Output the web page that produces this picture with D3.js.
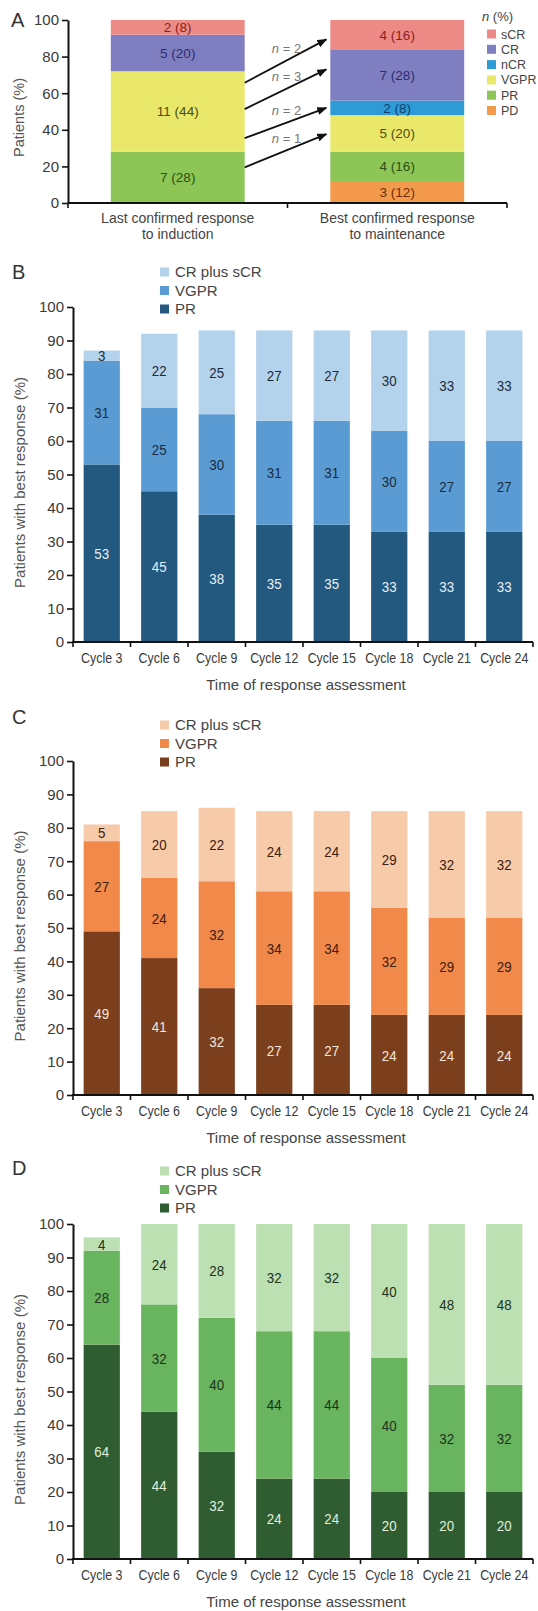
<!DOCTYPE html>
<html><head><meta charset="utf-8">
<script src="https://cdn.jsdelivr.net/npm/d3@7"></script>
<style>
html,body{margin:0;padding:0;background:#fff;}
svg{display:block;font-family:"Liberation Sans",Arial,Helvetica,sans-serif;}
</style></head><body>
<svg id="chart" width="538" height="1611"></svg>
<script>
// ---------- Panel A data ----------
const aCategories = ["Last confirmed response|to induction", "Best confirmed response|to maintenance"];
const aResponses = ["PD", "PR", "VGPR", "nCR", "CR", "sCR"];          // stack order, bottom to top
const aLegendOrder = ["sCR", "CR", "nCR", "VGPR", "PR", "PD"];
const aInductionN = [0, 7, 11, 0, 5, 2];
const aInductionPct = [0, 28, 44, 0, 20, 8];
const aMaintenanceN = [3, 4, 5, 2, 7, 4];
const aMaintenancePct = [12, 16, 20, 8, 28, 16];
const aYTicks = [0, 20, 40, 60, 80, 100];
const aArrowFrom = [65.7, 51.3, 35.4, 19.5];
const aArrowTo = [89.4, 73, 52, 37.6];
const aArrowN = [2, 3, 2, 1];

// ---------- Panels B-D data ----------
const cycles = ["Cycle 3", "Cycle 6", "Cycle 9", "Cycle 12", "Cycle 15", "Cycle 18", "Cycle 21", "Cycle 24"];
const cycleSeries = ["PR", "VGPR", "CR plus sCR"];
const cycleLegend = ["CR plus sCR", "VGPR", "PR"];
const cycleYTicks = [0, 10, 20, 30, 40, 50, 60, 70, 80, 90, 100];
const bPR = [53, 45, 38, 35, 35, 33, 33, 33];
const bVGPR = [31, 25, 30, 31, 31, 30, 27, 27];
const bCR = [3, 22, 25, 27, 27, 30, 33, 33];
const cPR = [49, 41, 32, 27, 27, 24, 24, 24];
const cVGPR = [27, 24, 32, 34, 34, 32, 29, 29];
const cCR = [5, 20, 22, 24, 24, 29, 32, 32];
const dPR = [64, 44, 32, 24, 24, 20, 20, 20];
const dVGPR = [28, 32, 40, 44, 44, 40, 32, 32];
const dCR = [4, 24, 28, 32, 32, 40, 48, 48];

const svg = d3.select("#chart");
const AXIS = "#111";
const TXT = "#3a3a3a";

// ================= Panel A =================
(function panelA() {
  const X0 = 68, X1 = 507, Y0 = 203, Y100 = 20;
  const y = d3.scaleLinear().domain([0, 100]).range([Y0, Y100]);
  const x = d3.scaleBand().domain(aCategories).range([X0, X1]).paddingInner(0.39).paddingOuter(0.195);
  const colors = {PD: "#f39a4c", PR: "#8dc657", VGPR: "#e9e86a", nCR: "#2f9bd6", CR: "#7f7ec0", sCR: "#ee8a86"};
  const tcolors = {PD: "#6e2d08", PR: "#2b4f14", VGPR: "#4f4c12", nCR: "#12406e", CR: "#2c2c72", sCR: "#8a2020"};
  const pctSets = [aInductionPct, aMaintenancePct];
  const nSets = [aInductionN, aMaintenanceN];
  const rows = aCategories.map((c, i) => {
    const r = {cat: c, idx: i};
    aResponses.forEach((k, j) => r[k] = pctSets[i][j]);
    return r;
  });
  const stacked = d3.stack().keys(aResponses)(rows);
  const g = svg.append("g");
  stacked.forEach(s => {
    const j = aResponses.indexOf(s.key);
    s.forEach(d => {
      if (d[1] - d[0] <= 0) return;
      g.append("rect").attr("x", x(d.data.cat)).attr("width", x.bandwidth())
        .attr("y", y(d[1])).attr("height", y(d[0]) - y(d[1])).attr("fill", colors[s.key]);
      g.append("text").attr("x", x(d.data.cat) + x.bandwidth() / 2).attr("y", y((d[0] + d[1]) / 2))
        .attr("dy", "0.36em").attr("text-anchor", "middle").attr("font-size", 13.5)
        .attr("fill", tcolors[s.key])
        .text(nSets[d.data.idx][j] + " (" + pctSets[d.data.idx][j] + ")");
    });
  });
  // axes
  const yAxis = d3.axisLeft(y).tickValues(aYTicks).tickSize(6).tickPadding(3).tickSizeOuter(0);
  const ya = g.append("g").attr("transform", `translate(${X0},0)`).call(yAxis);
  ya.select(".domain").attr("stroke", AXIS).attr("stroke-width", 2);
  ya.selectAll(".tick line").attr("stroke", AXIS).attr("stroke-width", 1.6);
  ya.selectAll(".tick text").attr("font-size", 15).attr("fill", TXT).attr("font-family", "Liberation Sans, Arial, sans-serif");
  const bx = d3.scaleLinear().domain([0, aCategories.length]).range([X0, X1]);
  g.append("line").attr("x1", bx(0)).attr("x2", bx(aCategories.length)).attr("y1", Y0).attr("y2", Y0)
    .attr("stroke", AXIS).attr("stroke-width", 2);
  d3.range(aCategories.length + 1).forEach(i => {
    g.append("line").attr("x1", bx(i)).attr("x2", bx(i)).attr("y1", Y0).attr("y2", Y0 + 5)
      .attr("stroke", AXIS).attr("stroke-width", 1.6);
  });
  aCategories.forEach(c => {
    const t = g.append("text").attr("x", x(c) + x.bandwidth() / 2).attr("y", Y0 + 20)
      .attr("text-anchor", "middle").attr("font-size", 14).attr("fill", "#444");
    c.split("|").forEach((line, k) => t.append("tspan").attr("x", x(c) + x.bandwidth() / 2).attr("dy", k ? 16 : 0).text(line));
  });
  g.append("text").attr("transform", `translate(24,${(Y0 + Y100) / 2 + 6}) rotate(-90)`)
    .attr("text-anchor", "middle").attr("font-size", 14.5).attr("fill", "#555").text("Patients (%)");
  g.append("text").attr("x", 11).attr("y", 27).attr("font-size", 20).attr("fill", "#333").text("A");

  // arrows
  const defs = svg.append("defs");
  defs.append("marker").attr("id", "arr").attr("viewBox", "0 0 10 8").attr("refX", 9).attr("refY", 4)
    .attr("markerWidth", 10).attr("markerHeight", 8).attr("markerUnits", "userSpaceOnUse").attr("orient", "auto")
    .append("path").attr("d", "M0,0 L10,4 L0,8 Z").attr("fill", "#111");
  const xs = x(aCategories[0]) + x.bandwidth();
  const xe = x(aCategories[1]) - 4;
  aArrowFrom.forEach((f, i) => {
    g.append("line").attr("x1", xs).attr("y1", y(f)).attr("x2", xe).attr("y2", y(aArrowTo[i]))
      .attr("stroke", "#111").attr("stroke-width", 1.8).attr("marker-end", "url(#arr)");
    const mx = (xs + xe) / 2, my = (y(f) + y(aArrowTo[i])) / 2;
    const t = g.append("text").attr("x", mx + 1).attr("y", my - 8).attr("text-anchor", "middle")
      .attr("font-size", 13).attr("fill", "#777");
    t.append("tspan").attr("font-style", "italic").text("n");
    t.append("tspan").text(" = " + aArrowN[i]);
  });

  // legend
  const lg = g.append("g");
  const lt = lg.append("text").attr("x", 482).attr("y", 21).attr("font-size", 13).attr("fill", "#444");
  lt.append("tspan").attr("font-style", "italic").text("n");
  lt.append("tspan").text(" (%)");
  const ly = d3.scalePoint().domain(aLegendOrder).range([34, 110.5]);
  aLegendOrder.forEach(k => {
    lg.append("rect").attr("x", 487).attr("y", ly(k) - 4.5).attr("width", 9).attr("height", 9).attr("fill", colors[k]);
    lg.append("text").attr("x", 501).attr("y", ly(k)).attr("dy", "0.36em").attr("font-size", 12.5)
      .attr("fill", "#444").text(k);
  });
})();

// ================= Panels B-D =================
function cyclePanel(cfg) {
  const {letter, y0, y100, pr, vgpr, cr, colors, tdark, tlight, legendTop, letterY} = cfg;
  const X0 = 73, X1 = 533;
  const y = d3.scaleLinear().domain([0, 100]).range([y0, y100]);
  const x = d3.scaleBand().domain(cycles).range([X0, X1]).paddingInner(0.37).paddingOuter(0.185);
  const rows = cycles.map((c, i) => ({cycle: c, "PR": pr[i], "VGPR": vgpr[i], "CR plus sCR": cr[i]}));
  const stacked = d3.stack().keys(cycleSeries)(rows);
  const g = svg.append("g");
  stacked.forEach(s => {
    s.forEach(d => {
      g.append("rect").attr("x", x(d.data.cycle)).attr("width", x.bandwidth())
        .attr("y", y(d[1])).attr("height", y(d[0]) - y(d[1])).attr("fill", colors[s.key]);
    });
  });
  stacked.forEach(s => {
    s.forEach(d => {
      const cx = x(d.data.cycle) + x.bandwidth() / 2, cy = y((d[0] + d[1]) / 2);
      g.append("g").attr("transform", `translate(${cx},${cy})`)
        .append("text").attr("transform", "scale(0.86,1)").attr("text-anchor", "middle").attr("dy", "0.36em")
        .attr("font-size", 15.5).attr("fill", s.key === "PR" ? tlight : tdark)
        .text(d.data[s.key]);
    });
  });
  // y axis
  const yAxis = d3.axisLeft(y).tickValues(cycleYTicks).tickSize(6).tickPadding(3).tickSizeOuter(0);
  const ya = g.append("g").attr("transform", `translate(${X0},0)`).call(yAxis);
  ya.select(".domain").attr("stroke", AXIS).attr("stroke-width", 2);
  ya.selectAll(".tick line").attr("stroke", AXIS).attr("stroke-width", 1.6);
  ya.selectAll(".tick text").attr("font-size", 15).attr("fill", TXT).attr("font-family", "Liberation Sans, Arial, sans-serif");
  // x axis with boundary ticks
  const bx = d3.scaleLinear().domain([0, cycles.length]).range([X0, X1]);
  g.append("line").attr("x1", X0 - 1).attr("x2", X1).attr("y1", y0).attr("y2", y0).attr("stroke", AXIS).attr("stroke-width", 2);
  d3.range(cycles.length + 1).forEach(i => {
    g.append("line").attr("x1", bx(i)).attr("x2", bx(i)).attr("y1", y0).attr("y2", y0 + 5)
      .attr("stroke", AXIS).attr("stroke-width", 1.6);
  });
  cycles.forEach(c => {
    g.append("g").attr("transform", `translate(${x(c) + x.bandwidth() / 2},${y0 + 21})`)
      .append("text").attr("transform", "scale(0.8,1)").attr("text-anchor", "middle")
      .attr("font-size", 15.5).attr("fill", TXT).text(c);
  });
  g.append("text").attr("x", (X0 + X1) / 2 + 3).attr("y", y0 + 48).attr("text-anchor", "middle")
    .attr("font-size", 15).attr("fill", "#444").text("Time of response assessment");
  g.append("text").attr("transform", `translate(25,${(y0 + y100) / 2 + 8}) rotate(-90)`)
    .attr("text-anchor", "middle").attr("font-size", 15).attr("fill", "#555").text("Patients with best response (%)");
  g.append("text").attr("x", 12).attr("y", letterY).attr("font-size", 20).attr("fill", "#333").text(letter);
  // legend
  const ly = d3.scalePoint().domain(cycleLegend).range([legendTop, legendTop + 37]);
  cycleLegend.forEach(k => {
    g.append("rect").attr("x", 160).attr("y", ly(k) - 4.5).attr("width", 9).attr("height", 9).attr("fill", colors[k]);
    g.append("text").attr("x", 175).attr("y", ly(k)).attr("dy", "0.36em").attr("font-size", 15)
      .attr("fill", "#444").text(k);
  });
}

cyclePanel({letter: "B", y0: 642, y100: 307, pr: bPR, vgpr: bVGPR, cr: bCR,
  colors: {"CR plus sCR": "#b3d3ec", "VGPR": "#5b9bd3", "PR": "#23587f"},
  tdark: "#1b2b3c", tlight: "#e8eff7", legendTop: 272, letterY: 279});
cyclePanel({letter: "C", y0: 1095, y100: 761, pr: cPR, vgpr: cVGPR, cr: cCR,
  colors: {"CR plus sCR": "#f7caa9", "VGPR": "#f0894a", "PR": "#7b3f1d"},
  tdark: "#3d2010", tlight: "#f6e6da", legendTop: 725, letterY: 724});
cyclePanel({letter: "D", y0: 1559, y100: 1224, pr: dPR, vgpr: dVGPR, cr: dCR,
  colors: {"CR plus sCR": "#bde0b3", "VGPR": "#69b45e", "PR": "#2f5d31"},
  tdark: "#1c331c", tlight: "#e0efdd", legendTop: 1171, letterY: 1175});
</script>
</body></html>
